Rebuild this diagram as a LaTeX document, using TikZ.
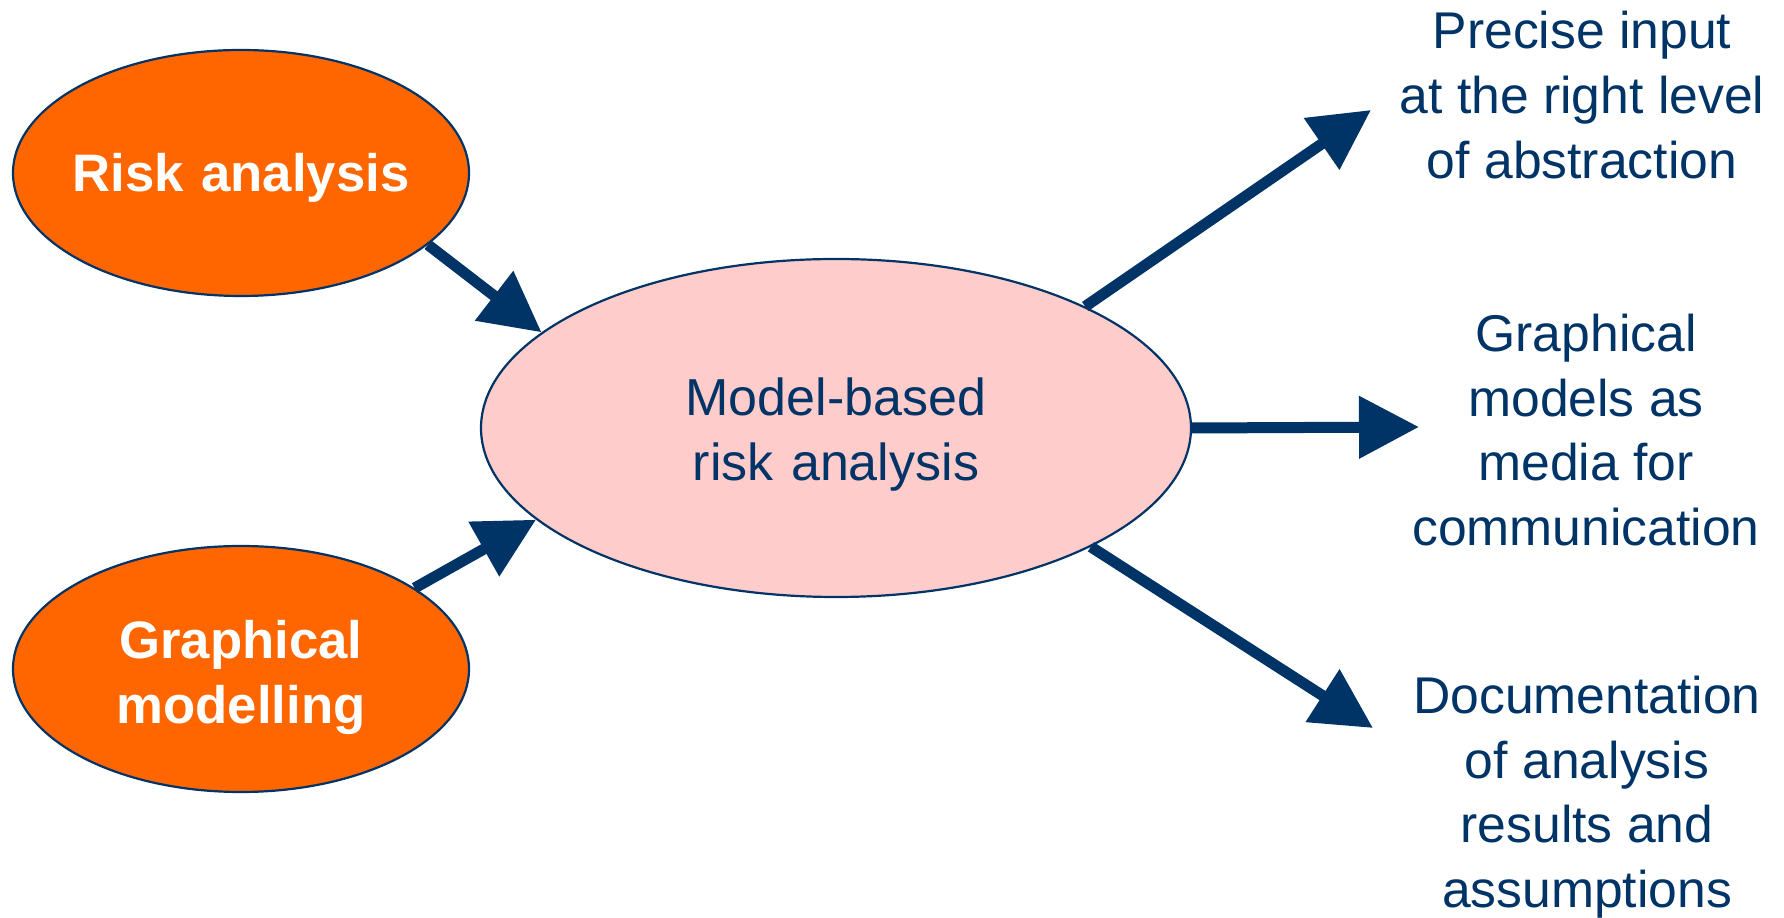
\documentclass[tikz,border=0pt]{standalone}
\usepackage{fontspec}
\setmainfont{Liberation Sans}
\usetikzlibrary{shapes.geometric,arrows.meta}
\definecolor{darkblue}{RGB}{0,51,102}
\definecolor{riskorange}{RGB}{255,102,0}
\definecolor{lightpink}{RGB}{255,204,204}

\begin{document}
\begin{tikzpicture}[
    inputellipse/.style={ellipse, draw=darkblue, line width=0.022000cm, fill=riskorange, minimum width=4.560000cm, minimum height=2.460000cm, inner ysep=0pt, inner xsep=-0.200000cm, text width=3.600000cm, align=center, text=white, font=\fontsize{15}{18.6}\selectfont\bfseries},
    mainellipse/.style={ellipse, draw=darkblue, line width=0.022000cm, fill=lightpink, minimum width=7.100000cm, minimum height=3.380000cm, inner sep=0pt, text width=4.000000cm, align=center, text=darkblue, font=\fontsize{14.8}{18.4}\selectfont},
    benefit/.style={align=center, text=darkblue, inner sep=0pt, font=\fontsize{14.7}{18.4}\selectfont},
    thickarrow/.style={draw=darkblue, line width=0.110000cm, -{Triangle[length=0.600000cm,width=0.600000cm]}}
  ]
    \useasboundingbox (0,0) rectangle (17.840000,9.180000);

    % Marking ellipse risk analysis
    \node [inputellipse, text height=0.480000cm, text depth=0.110000cm] (riskanalysis) at (2.410000,7.450000) {Risk analysis};%

    % Marking ellipse graphical modelling
    \node [inputellipse, text depth=0.590000cm] (graphmodelling) at (2.410000,2.490000) {Graphical\\modelling};%

    % Marking ellipse model-based risk analysis
    \node [mainellipse, text depth=0.625000cm] (modelbased) at (8.360000,4.900000) {Model-based\\risk analysis};%

    % Marking texts on the right
    \node [benefit] (preciseinput) at (15.820000,8.230000) {Precise input\\at the right level\\of abstraction};%
    \node [benefit] (graphmodels) at (15.860000,4.880000) {Graphical\\models as\\media for\\communication};%
    \node [benefit] (documentation) at (15.870000,1.210000) {Documentation\\of analysis\\results and\\assumptions};%

    % Marking arrow tips
    \coordinate (precisetip) at (13.710000,8.080000);%
    \coordinate (modelstip) at (14.190000,4.910000);%
    \coordinate (doctip) at (13.730000,1.900000);%

    % Drawing arrows into model-based risk analysis
    \draw [thickarrow] (riskanalysis.-21.800000) -- (modelbased.162.200000);%
    \draw [thickarrow] (graphmodelling.25.700000) -- (modelbased.-163.100000);%

    % Drawing arrows out of model-based risk analysis
    \draw [thickarrow] (modelbased.26.100000) -- (precisetip);%
    \draw [thickarrow] (modelbased.east) -- (modelstip);%
    \draw [thickarrow] (modelbased.-25.600000) -- (doctip);%
\end{tikzpicture}
\end{document}
